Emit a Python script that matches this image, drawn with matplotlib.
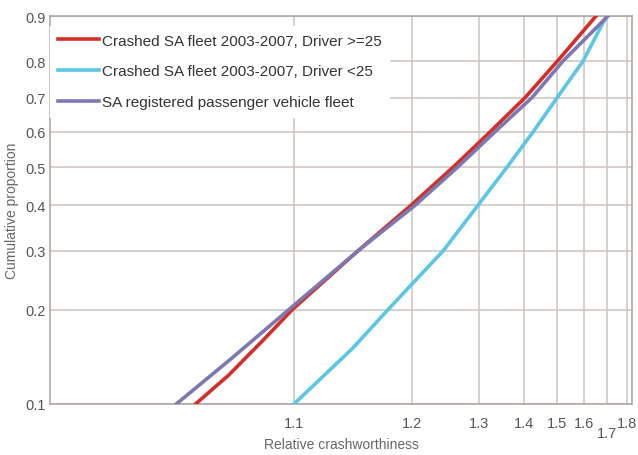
import numpy as np
import matplotlib
matplotlib.use("Agg")
import matplotlib.pyplot as plt

plt.rcParams["font.family"] = ["Liberation Sans", "DejaVu Sans"]

# ---- data ----
prop_red = [0.1, 0.124, 0.162, 0.2, 0.3, 0.4, 0.5, 0.6, 0.7, 0.8, 0.9]
x_red = [1.056, 1.068, 1.084, 1.099, 1.146, 1.199, 1.257, 1.322, 1.403, 1.500, 1.651]

prop_blue = [0.1, 0.151, 0.2, 0.3, 0.4, 0.5, 0.6, 0.7, 0.8, 0.9]
x_blue = [1.100, 1.141, 1.174, 1.242, 1.298, 1.359, 1.425, 1.499, 1.595, 1.700]

prop_purple = [0.1, 0.140, 0.2, 0.3, 0.4, 0.5, 0.6, 0.7, 0.8, 0.9]
x_purple = [1.050, 1.069, 1.097, 1.146, 1.204, 1.264, 1.332, 1.422, 1.519, 1.707]

labels = [
    "Crashed SA fleet 2003-2007, Driver >=25",
    "Crashed SA fleet 2003-2007, Driver <25",
    "SA registered passenger vehicle fleet",
]
x_ticks = [1.1, 1.2, 1.3, 1.4, 1.5, 1.6, 1.7, 1.8]
y_ticks = [0.1, 0.2, 0.3, 0.4, 0.5, 0.6, 0.7, 0.8, 0.9]

RED = "#d42e2a"
BLUE = "#5cc6e6"
PURPLE = "#7c79b2"
GRID = "#cbc3bf"
SPINE = "#aaa29e"

# ---- axis scales ----
# x: warped log(x-1) axis, knots taken from the printed gridlines
_u_knots = np.array([-2.0, -1.0, np.log10(0.2), np.log10(0.3), np.log10(0.4),
                     np.log10(0.5), np.log10(0.6), np.log10(0.7), np.log10(0.8), 0.0])
_p_knots = np.array([-97.0, 294.0, 411.7, 479.0, 524.0, 557.5, 584.3, 606.5, 626.5, 660.0])


def x_forward(x):
    x = np.asarray(x, dtype=float)
    u = np.log10(np.clip(x - 1.0, 1e-6, None))
    return np.interp(u, _u_knots, _p_knots)


def x_inverse(p):
    p = np.asarray(p, dtype=float)
    return 1.0 + 10 ** np.interp(p, _p_knots, _u_knots)


# y: Weibull probability axis
def y_forward(p):
    p = np.clip(np.asarray(p, dtype=float), 1e-9, 1 - 1e-9)
    return np.log(-np.log(1 - p))


def y_inverse(w):
    return 1 - np.exp(-np.exp(np.asarray(w, dtype=float)))


fig = plt.figure(figsize=(6.38, 4.56), dpi=100)
ax = fig.add_axes([50 / 638, 1 - 405 / 456, 582 / 638, 388 / 456])

ax.set_xscale("function", functions=(x_forward, x_inverse))
ax.set_yscale("function", functions=(y_forward, y_inverse))

lw = 2.6
ax.plot(x_red, prop_red, color=RED, lw=lw, label=labels[0], zorder=3)
ax.plot(x_blue, prop_blue, color=BLUE, lw=lw, label=labels[1], zorder=3)
ax.plot(x_purple, prop_purple, color=PURPLE, lw=lw, label=labels[2], zorder=4)

ax.set_xlim(float(x_inverse(50)), float(x_inverse(632)))
ax.set_ylim(0.1, 0.9)

ax.set_xticks(x_ticks)
ax.set_xticklabels([("" if v == 1.7 else f"{v:.1f}") for v in x_ticks])
ax.set_yticks(y_ticks)
ax.set_yticklabels([f"{v:.1f}" for v in y_ticks])
ax.minorticks_off()
ax.tick_params(axis="both", length=0, labelsize=10.5, labelcolor="#555555")
ax.tick_params(axis="x", pad=9)
ax.tick_params(axis="y", pad=3)

# 1.7 label is pushed down to avoid overlapping its neighbours
ax.annotate("1.7", xy=(1.7, 0), xycoords=ax.get_xaxis_transform(),
            xytext=(0, -15.5), textcoords="offset points",
            ha="center", va="top", fontsize=10.5, color="#555555")

ax.grid(True, color=GRID, lw=1.1)
ax.set_axisbelow(True)
for s in ax.spines.values():
    s.set_color(SPINE)
    s.set_linewidth(1.1)

ax.set_xlabel("Relative crashworthiness", fontsize=10, color="#666666", labelpad=5)
ax.set_ylabel("Cumulative proportion", fontsize=10, color="#666666", labelpad=5)

leg = ax.legend(loc="upper left", bbox_to_anchor=(0, 1 - 10 / 388),
                borderaxespad=0, frameon=True, fancybox=False,
                framealpha=1, edgecolor="white", fontsize=11,
                handlelength=2.7, handletextpad=0.2, labelspacing=1.1,
                borderpad=0.5)
for t in leg.get_texts():
    t.set_color("#333333")
leg.set_zorder(5)

fig.savefig("out.png", dpi=100)
